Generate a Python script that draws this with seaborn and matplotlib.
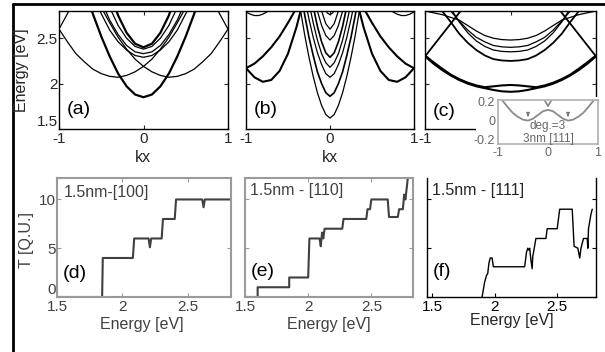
import numpy as np
import pandas as pd
import matplotlib
matplotlib.use("Agg")
import matplotlib.pyplot as plt
import seaborn as sns
from matplotlib.patches import Rectangle
from matplotlib.lines import Line2D

# ---- band structures, (kx, E) points ----
# panel (a): left halves are mirrored about kx=0
a_w = [(-1.0, 2.60), (-0.9, 2.46), (-0.8, 2.33), (-0.7, 2.24), (-0.6, 2.16), (-0.5, 2.11),
       (-0.4, 2.08), (-0.3, 2.07), (-0.2, 2.09), (-0.1, 2.13), (0.0, 2.19), (0.1, 2.27),
       (0.2, 2.38), (0.3, 2.51), (0.4, 2.67), (0.5, 2.84), (0.6, 3.04)]
a_fold = [(-1.0, 2.60), (-0.9, 2.77), (-0.8, 2.96)]
a_low = [(-0.7, 3.05), (-0.6, 2.77), (-0.5, 2.52), (-0.4, 2.30), (-0.3, 2.11), (-0.2, 1.97),
         (-0.1, 1.88), (0.0, 1.85)]
a_top = [
    [(-0.4, 3.02), (-0.3, 2.75), (-0.2, 2.56), (-0.1, 2.44), (0.0, 2.40)],
    [(-0.4, 2.84), (-0.3, 2.64), (-0.2, 2.50), (-0.1, 2.41), (0.0, 2.38)],
    [(-0.5, 2.91), (-0.4, 2.70), (-0.3, 2.54), (-0.2, 2.42), (-0.1, 2.35), (0.0, 2.33)],
    [(-0.6, 2.97), (-0.5, 2.77), (-0.4, 2.59), (-0.3, 2.46), (-0.2, 2.37), (-0.1, 2.31), (0.0, 2.29)],
]

# panel (b)
b_mid = [
    [(-0.4, 3.10), (-0.35, 2.80), (-0.3, 2.53), (-0.25, 2.29), (-0.2, 2.08), (-0.15, 1.90), (-0.1, 1.76), (-0.05, 1.66), (0.0, 1.62)],
    [(-0.35, 3.02), (-0.3, 2.75), (-0.25, 2.51), (-0.2, 2.31), (-0.15, 2.13), (-0.1, 2.00), (-0.05, 1.90), (0.0, 1.86)],
    [(-0.3, 2.94), (-0.25, 2.71), (-0.2, 2.51), (-0.15, 2.34), (-0.1, 2.21), (-0.05, 2.11), (0.0, 2.07)],
    [(-0.25, 2.89), (-0.2, 2.67), (-0.15, 2.48), (-0.1, 2.33), (-0.05, 2.23), (0.0, 2.18)],
    [(-0.2, 2.85), (-0.15, 2.63), (-0.1, 2.46), (-0.05, 2.34), (0.0, 2.29)],
    [(-0.18, 2.92), (-0.15, 2.80), (-0.1, 2.64), (-0.05, 2.53), (0.0, 2.48)],
    [(-0.12, 2.87), (-0.1, 2.80), (-0.05, 2.66), (0.0, 2.60)],
    [(-0.06, 2.82), (-0.03, 2.777), (0.0, 2.76)],
]
b_mid_thick = [1, 4]
b_side = [
    [(-1.0, 2.17), (-0.9, 2.07), (-0.8, 2.02), (-0.7, 2.04), (-0.6, 2.14), (-0.5, 2.33), (-0.4, 2.62), (-0.35, 2.80), (-0.32, 2.92)],
    [(-1.0, 2.17), (-0.9, 2.22), (-0.8, 2.30), (-0.7, 2.40), (-0.6, 2.52), (-0.5, 2.67), (-0.42, 2.80), (-0.38, 2.88)],
]
b_edge = [(-1.0, 2.79), (-0.95, 2.765), (-0.9, 2.75), (-0.85, 2.75), (-0.8, 2.765), (-0.75, 2.79), (-0.7, 2.83)]

# panel (c)
c_low = [
    [(-1.0, 2.30), (-0.9, 2.22), (-0.8, 2.15), (-0.7, 2.09), (-0.6, 2.04), (-0.5, 2.00), (-0.4, 1.97),
     (-0.3, 1.95), (-0.2, 1.93), (-0.1, 1.915), (0.0, 1.91)],
    [(-1.0, 2.31), (-0.9, 2.235), (-0.8, 2.165), (-0.7, 2.10), (-0.6, 2.05), (-0.5, 2.01), (-0.4, 1.98),
     (-0.3, 1.96), (-0.2, 1.97), (-0.1, 1.98), (0.0, 1.985)],
]
c_rise = [(-1.0, 2.30), (-0.9, 2.42), (-0.8, 2.54), (-0.7, 2.66), (-0.6, 2.78), (-0.55, 2.84)]
c_arc = [
    [(-1.0, 2.80), (-0.9, 2.78), (-0.8, 2.76), (-0.7, 2.73), (-0.6, 2.70), (-0.5, 2.64), (-0.4, 2.58),
     (-0.3, 2.53), (-0.2, 2.50), (-0.1, 2.485), (0.0, 2.48)],
    [(-0.75, 2.86), (-0.7, 2.80), (-0.6, 2.69), (-0.5, 2.59), (-0.4, 2.51), (-0.3, 2.46), (-0.2, 2.42),
     (-0.1, 2.405), (0.0, 2.40)],
    [(-0.72, 2.86), (-0.7, 2.83), (-0.6, 2.68), (-0.5, 2.56), (-0.4, 2.47), (-0.3, 2.41), (-0.2, 2.37),
     (-0.1, 2.355), (0.0, 2.35)],
    [(-0.85, 2.86), (-0.8, 2.80), (-0.7, 2.68), (-0.6, 2.55), (-0.5, 2.45), (-0.4, 2.37), (-0.3, 2.31),
     (-0.2, 2.27), (-0.1, 2.255), (0.0, 2.25)],
]

# inset of (c), 3nm [111]
ins_band = [(-0.92, 0.22), (-0.8, 0.14), (-0.7, 0.08), (-0.6, 0.04), (-0.5, 0.01), (-0.4, 0.0),
            (-0.3, 0.02), (-0.2, 0.06), (-0.1, 0.10), (0.0, 0.115)]
ins_v = [(-0.06, 0.21), (0.0, 0.155)]
ins_arrow_k = [-0.4, 0.4]

# ---- transmission (d), (e), (f) ----
d_E = [1.50, 1.845, 1.85, 2.08, 2.09, 2.20, 2.21, 2.22, 2.30, 2.31, 2.40, 2.41, 2.61, 2.62, 2.63, 2.83]
d_T = [0, 0, 4, 4, 6, 6, 5.1, 6, 6, 8, 8, 10, 10, 9.2, 10, 10]

e_E = [1.50, 1.60, 1.60, 1.85, 1.85, 2.00, 2.01, 2.09, 2.10, 2.11, 2.12, 2.13, 2.27,
       2.28, 2.46, 2.47, 2.49, 2.50, 2.63, 2.64, 2.71, 2.72, 2.75, 2.76, 2.77, 2.79]
e_T = [0, 0, 1, 1, 2, 2, 6, 6, 5.2, 6.6, 6.0, 7, 7,
       8, 8, 9, 9, 10, 10, 8.2, 8.2, 9, 9, 10.5, 10, 12.3]

f_E = [1.90, 1.92, 1.935, 1.945, 1.955, 1.965, 1.98, 1.99, 2.24, 2.255, 2.265, 2.275, 2.28,
       2.29, 2.30, 2.305, 2.31, 2.33, 2.41, 2.42, 2.50, 2.52, 2.62, 2.635, 2.665, 2.68,
       2.69, 2.71, 2.74, 2.745, 2.75, 2.77, 2.78]
f_T = [0, 1.5, 2.2, 2.4, 3.5, 4.0, 4.0, 3.1, 3.1, 4.6, 5.0, 4.8, 5.0,
       3.8, 2.9, 4.2, 4.5, 6.0, 6.0, 7.0, 7.0, 9.0, 9.0, 5.2, 5.0, 4.0,
       5.0, 6.0, 6.0, 5.0, 7.0, 8.5, 9.0]


def mirror(half):
    return half + [(-k, e) for k, e in reversed(half) if k != 0.0]


def flip(curve):
    return [(-k, e) for k, e in curve]


def draw(ax, curves, lw, color="k"):
    rows = [(i, k, e) for i, c in enumerate(curves) for k, e in c]
    df = pd.DataFrame(rows, columns=["curve", "kx", "E"])
    sns.lineplot(data=df, x="kx", y="E", units="curve", estimator=None, sort=False,
                 color=color, linewidth=lw, ax=ax, legend=False)


W, H = 605, 352


def box(x0, y0, x1, y1):
    return [x0 / W, 1 - y1 / H, (x1 - x0) / W, (y1 - y0) / H]


def fx(x, y):
    return x / W, 1 - y / H


sns.set_style("ticks")
plt.rcParams["font.family"] = ["Liberation Sans", "DejaVu Sans"]
plt.rcParams["xtick.direction"] = "in"
plt.rcParams["ytick.direction"] = "in"

fig = plt.figure(figsize=(W / 100, H / 100), dpi=100)

ax_a = fig.add_axes(box(59, 11, 228, 129))
ax_b = fig.add_axes(box(246, 11, 414, 129))
ax_c = fig.add_axes(box(425, 11, 596, 129))

draw(ax_a, [a_w, flip(a_w), a_fold, flip(a_fold)] + [mirror(c) for c in a_top[1:]], 0.9)
draw(ax_a, [mirror(a_low), mirror(a_top[0])], 1.6)

draw(ax_b, [mirror(c) for i, c in enumerate(b_mid) if i not in b_mid_thick]
     + [b_edge, flip(b_edge)], 0.9)
draw(ax_b, [mirror(b_mid[i]) for i in b_mid_thick], 1.2)
draw(ax_b, b_side + [flip(c) for c in b_side], 1.5)

draw(ax_c, [mirror(c) for c in c_arc[:3]], 0.9)
draw(ax_c, [mirror(c_arc[3]), c_rise, flip(c_rise)], 1.3)
draw(ax_c, [mirror(c) for c in c_low], 1.5)

for ax in (ax_a, ax_b, ax_c):
    ax.set_xlim(-1, 1)
    ax.set_ylim(1.5, 2.8)
    ax.set_xticks([-1, 0, 1])
    ax.set_xticklabels(["-1", "0", "1"])
    ax.set_yticks([1.5, 2, 2.5])
    ax.set_xlabel("")
    ax.set_ylabel("")
    ax.tick_params(top=True, right=True, length=3, width=0.8, labelsize=11, pad=2.5)
    for s in ax.spines.values():
        s.set_visible(True)
        s.set_linewidth(1.0)
        s.set_color("k")
ax_a.set_yticklabels(["1.5", "2", "2.5"])
ax_a.tick_params(axis="y", pad=1)
ax_a.get_yticklabels()[0].set_va("bottom")
ax_b.set_yticklabels([])
ax_c.set_yticklabels([])

# white patch behind the pasted inset
fig.add_artist(Rectangle(fx(476, 160), (W - 476) / W, 63 / H, transform=fig.transFigure,
                         facecolor="white", edgecolor="none", zorder=1))

ax_in = fig.add_axes(box(498, 100, 598, 144), zorder=2)
draw(ax_in, [mirror(ins_band), mirror(ins_v)], 1.3, color="#8a8a8a")
for k in ins_arrow_k:
    ax_in.annotate("", xy=(k, 0.015), xytext=(k, 0.085),
                   arrowprops=dict(arrowstyle="-|>", color="#777777", lw=0.8,
                                   mutation_scale=5))
ax_in.set_xlim(-1, 1)
ax_in.set_ylim(-0.25, 0.22)
ax_in.set_xticks([-1, 0, 1])
ax_in.set_xticklabels(["-1", "0", "1"])
ax_in.set_yticks([-0.2, 0, 0.2])
ax_in.set_yticklabels(["-0.2", "0", "0.2"])
ax_in.set_xlabel("")
ax_in.set_ylabel("")
ax_in.tick_params(length=0, labelsize=9, colors="#666666", pad=2)
for s in ax_in.spines.values():
    s.set_visible(True)
    s.set_color("#b0b0b0")
    s.set_linewidth(1.2)
ax_in.text(0, -0.06, "deg.=3", ha="center", va="center", fontsize=8.5, color="#666666")
ax_in.text(0, -0.195, "3nm [111]", ha="center", va="center", fontsize=8.5, color="#666666")

# transmission panels
ax_d = fig.add_axes(box(57, 178, 231, 297))
ax_e = fig.add_axes(box(245, 178, 413, 297))
ax_f = fig.add_axes(box(427, 178, 596, 297))

sns.lineplot(x=d_E, y=d_T, sort=False, estimator=None, color="#404040", linewidth=1.5, ax=ax_d)
sns.lineplot(x=e_E, y=e_T, sort=False, estimator=None, color="#404040", linewidth=1.5, ax=ax_e)
sns.lineplot(x=f_E, y=f_T, sort=False, estimator=None, color="k", linewidth=1.0, ax=ax_f)

for ax, col in ((ax_d, "#9a9a9a"), (ax_e, "#9a9a9a"), (ax_f, "k")):
    ax.set_xlim(1.5, 2.83)
    ax.set_ylim(0, 12.2)
    ax.set_xticks([1.5, 2, 2.5])
    ax.set_xticklabels(["1.5", "2", "2.5"])
    ax.set_yticks([0, 5, 10])
    ax.set_yticklabels([])
    tc = "#404040" if col != "k" else "k"
    ax.tick_params(top=True, right=True, length=3, width=0.8, color=col,
                   labelcolor=tc, labelsize=11, pad=2)
    for s in ax.spines.values():
        s.set_visible(True)
        s.set_color(col)
        s.set_linewidth(1.5 if col != "k" else 1.0)
ax_f.set_xlim(1.46, 2.81)
ax_f.spines["top"].set_visible(False)
ax_f.tick_params(top=False)
ax_d.set_yticklabels(["0", "5", "10"])
ax_d.tick_params(axis="y", pad=1)
ax_d.get_yticklabels()[0].set_va("bottom")

# labels
fig.text(*fx(22, 70), "Energy [eV]", rotation=90, ha="center", va="center", fontsize=11.5)
fig.text(*fx(143, 157), "kx", ha="center", va="center", fontsize=11.5)
fig.text(*fx(330, 157), "kx", ha="center", va="center", fontsize=11.5)
fig.text(*fx(27, 240), "T [Q.U.]", rotation=90, ha="center", va="center", fontsize=11.5,
         color="#404040")
fig.text(*fx(142, 324), "Energy [eV]", ha="center", va="center", fontsize=11.5, color="#404040")
fig.text(*fx(329, 324), "Energy [eV]", ha="center", va="center", fontsize=11.5, color="#404040")
fig.text(*fx(512, 320), "Energy [eV]", ha="center", va="center", fontsize=11.5)

for x, y, s in ((67, 110, "(a)"), (254, 110, "(b)"), (433, 112, "(c)"),
                (63, 274, "(d)"), (251, 272, "(e)"), (433, 272, "(f)")):
    fig.text(*fx(x, y), s, ha="left", va="center", fontsize=14, color="k")

fig.text(*fx(64, 192), "1.5nm-[100]", ha="left", va="center", fontsize=11.5, color="#404040")
fig.text(*fx(250, 191), "1.5nm - [110]", ha="left", va="center", fontsize=11.5, color="#404040")
fig.text(*fx(432, 190), "1.5nm - [111]", ha="left", va="center", fontsize=11.5)

# outer frame of the figure
fig.add_artist(Line2D([13 / W, 13 / W], [0, 1 - 4 / H], transform=fig.transFigure, color="k", lw=2))
fig.add_artist(Line2D([13 / W, 1], [1 - 4 / H, 1 - 4 / H], transform=fig.transFigure, color="k", lw=2))

fig.savefig("out.png", dpi=100)
